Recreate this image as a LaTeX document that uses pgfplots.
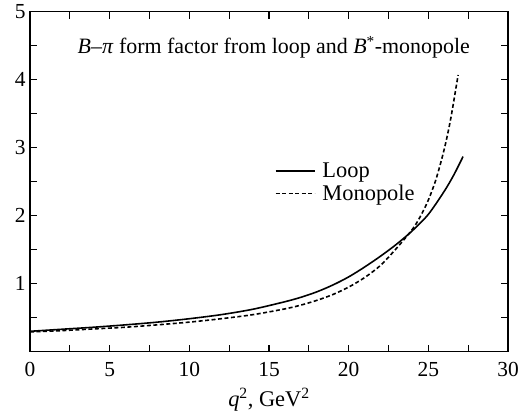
\documentclass[border=0pt]{standalone}
\usepackage{fontspec}
\setmainfont{Liberation Serif}
\usepackage{pgfplots}
\pgfplotsset{compat=1.18}
\usetikzlibrary{calc}
\newcommand\lf{\fontsize{22.5}{26}\selectfont}
\begin{document}
\begin{tikzpicture}
\begin{axis}[
  scale only axis,
  width=478bp, height=340bp,
  xmin=0, xmax=30, ymin=0, ymax=5,
  xtick={0,5,...,30},
  minor xtick={2.5,7.5,...,27.5},
  ytick={1,2,3,4,5},
  minor ytick={0.5,1.5,...,4.5},
  tick align=inside,
  major tick length=7bp, minor tick length=7bp,
  tick style={line width=1.1pt, black},
  axis line style={line width=1.3pt},
  /pgf/number format/assume math mode=true,
  tick label style={font=\fontsize{21.5}{25}\selectfont},
  label style={font=\fontsize{22.5}{26}\selectfont},
  xticklabel style={yshift=-7bp},
  yticklabel style={xshift=-1bp},
  xlabel={\textit{q}\textsuperscript{2}, GeV\textsuperscript{2}},
  xlabel style={yshift=-5bp},
  legend style={at={(axis cs:15.35,2.81)}, anchor=north west, draw=none, fill=none,
     row sep=2bp, inner sep=0pt},
  legend cell align=left,
  legend image code/.code={\draw[line width=1.7pt,#1] (0bp,0bp) -- (39bp,0bp);},
]
\addplot[line width=1.6pt, black, smooth] coordinates {
(0,0.300) (2,0.330) (4,0.360) (6,0.395) (8,0.435) (10,0.485) (12,0.545)
(14,0.625) (16,0.735) (17,0.80) (18,0.88) (19,0.98) (20,1.10) (21,1.245)
(22,1.405) (23,1.58) (24,1.78) (25,2.02) (26,2.36) (26.6,2.60) (27.18,2.87)
};
\addlegendentry{\lf\hspace{5bp}Loop}
\addplot[line width=1.6pt, black, smooth, dash pattern=on 4bp off 2.5bp] coordinates {
(0,0.290) (2,0.310) (4,0.335) (6,0.360) (8,0.395) (10,0.435) (12,0.485)
(14,0.545) (16,0.630) (17,0.685) (18,0.755) (19,0.84) (20,0.95) (21,1.09)
(22,1.27) (23,1.52) (24,1.80) (24.5,1.99) (25,2.23) (25.5,2.55) (26,2.98)
(26.4,3.42) (26.87,4.07)
};
\addlegendentry{\lf\hspace{5bp}Monopole}
\node[font=\fontsize{22}{26}\selectfont] at (axis cs:15.3,4.48)
  {\textit{B}–\textit{π} form factor from loop and \textit{B}\textsuperscript{*}-monopole};
\end{axis}
\pgfresetboundingbox
\path[use as bounding box] ($(current axis.south west)+(-30bp,-61.3bp)$) rectangle ($(current axis.north east)+(11bp,11.7bp)$);
\end{tikzpicture}
\end{document}
